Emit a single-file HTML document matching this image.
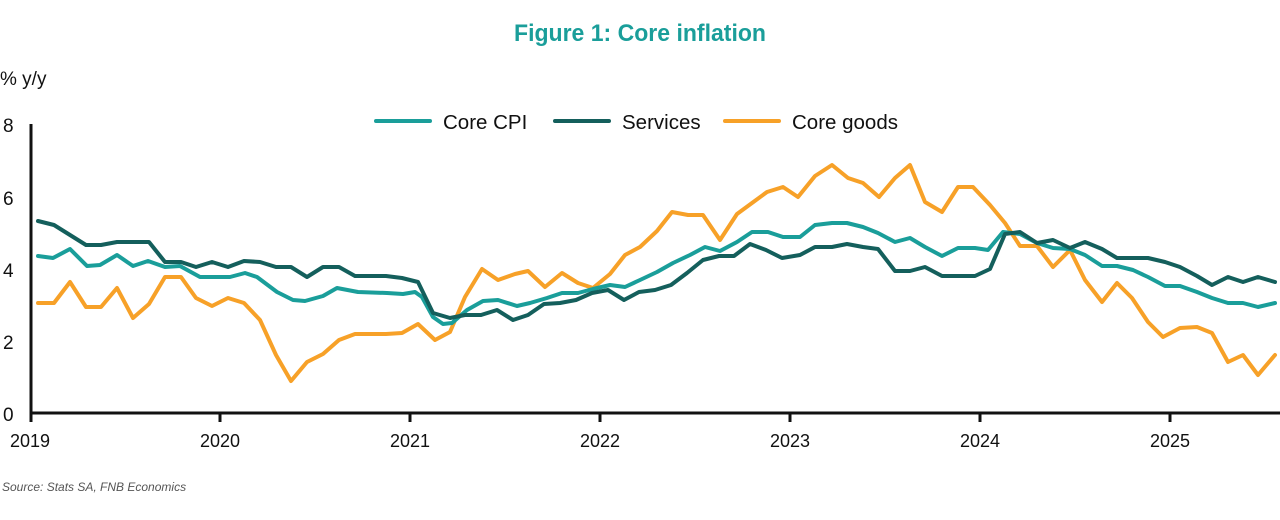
<!DOCTYPE html>
<html><head><meta charset="utf-8"><style>
body{margin:0;background:#fff;width:1280px;height:520px;overflow:hidden}
svg{display:block}
text{font-family:"Liberation Sans",sans-serif}
</style></head><body>
<svg width="1280" height="520" viewBox="0 0 1280 520" xmlns="http://www.w3.org/2000/svg">
<text x="640" y="41" text-anchor="middle" font-size="24" font-weight="bold" fill="#1a9e9a" textLength="252" lengthAdjust="spacingAndGlyphs">Figure 1: Core inflation</text>
<text x="0" y="85" font-size="19" fill="#111">% y/y</text>
<g font-size="19" fill="#111">
<text x="3" y="132">8</text><text x="3" y="205">6</text><text x="3" y="277">4</text><text x="3" y="349">2</text><text x="3" y="421">0</text>
</g>
<g font-size="18" fill="#111" text-anchor="middle">
<text x="30" y="447">2019</text><text x="220" y="447">2020</text><text x="410" y="447">2021</text><text x="600" y="447">2022</text><text x="790" y="447">2023</text><text x="980" y="447">2024</text><text x="1170" y="447">2025</text>
</g>
<text x="2" y="491" font-size="12" font-style="italic" fill="#555">Source: Stats SA, FNB Economics</text>
<g stroke-width="4" stroke-linecap="round">
<line x1="376" y1="121" x2="430" y2="121" stroke="#1a9e9a"/>
<line x1="555" y1="121" x2="609" y2="121" stroke="#145f5c"/>
<line x1="725" y1="121" x2="779" y2="121" stroke="#f7a128"/>
</g>
<g font-size="20.5" fill="#111">
<text x="443" y="129">Core CPI</text><text x="622" y="129">Services</text><text x="792" y="129">Core goods</text>
</g>
<g fill="none" stroke-width="4" stroke-linejoin="round" stroke-linecap="round">
<polyline stroke="#f7a128" points="38,303 54,303 70,282 86,307 101,307 117,288 133,318 149,304 165,277 181,277 196,298 212,306 228,298 244,303 260,320 276,355 291,381 307,362 323,354 339,340 355,334 371,334 386,334 402,333 418,324 435,340 450,332 465,297 482,269 498,280 515,274 528,271 545,287 562,273 578,283 593,288 610,274 625,255 640,247 657,231 672,212 688,215 703,215 720,240 737,214 752,203 767,192 783,187 798,197 815,176 832,165 848,178 863,183 879,197 895,178 910,165 925,202 942,212 958,187 973,187 990,205 1005,223 1020,246 1037,246 1053,267 1070,250 1085,280 1102,302 1117,283 1132,298 1148,322 1163,337 1180,328 1197,327 1212,333 1228,362 1243,355 1258,375 1275,355"/>
<polyline stroke="#1a9e9a" points="38,256 53,258 70,249 87,266 100,265 117,255 133,266 148,261 165,267 180,266 200,277 230,277 245,273 257,277 277,292 293,300 305,301 323,296 337,288 358,292 387,293 403,294 415,292 422,297 433,317 443,324 452,323 467,310 483,301 498,300 517,306 530,303 547,298 562,293 578,293 593,289 610,285 625,287 640,280 657,272 673,263 690,255 705,247 720,251 737,242 752,232 768,232 783,237 800,237 815,225 832,223 847,223 863,227 878,233 895,242 910,238 925,247 942,256 958,248 975,248 988,250 1003,232 1020,234 1037,243 1053,248 1070,249 1085,255 1102,266 1117,266 1133,270 1148,277 1165,286 1180,286 1197,292 1212,298 1228,303 1243,303 1258,307 1275,303"/>
<polyline stroke="#145f5c" points="38,221 54,225 70,235 86,245 101,245 117,242 133,242 149,242 165,262 181,262 196,267 212,262 228,267 244,261 260,262 276,267 291,267 307,277 323,267 339,267 355,276 371,276 386,276 402,278 418,282 433,313 450,318 465,315 481,315 497,310 513,320 528,315 544,304 560,303 576,300 592,293 608,290 624,300 639,292 655,290 671,285 687,273 703,260 719,256 734,256 750,244 766,250 782,258 800,255 815,247 832,247 847,244 863,247 878,249 895,271 910,271 925,267 942,276 958,276 975,276 990,269 1005,234 1020,232 1037,243 1053,240 1070,248 1085,242 1102,249 1117,258 1148,258 1165,262 1180,267 1197,276 1212,285 1228,277 1243,282 1258,277 1275,282"/>
</g>
<g stroke="#111" stroke-width="3" fill="none">
<line x1="31" y1="124" x2="31" y2="422"/>
<line x1="30" y1="413" x2="1280" y2="413"/>
<line x1="220" y1="413" x2="220" y2="422"/><line x1="410" y1="413" x2="410" y2="422"/><line x1="600" y1="413" x2="600" y2="422"/><line x1="790" y1="413" x2="790" y2="422"/><line x1="980" y1="413" x2="980" y2="422"/><line x1="1170" y1="413" x2="1170" y2="422"/>
</g>
</svg>
</body></html>
